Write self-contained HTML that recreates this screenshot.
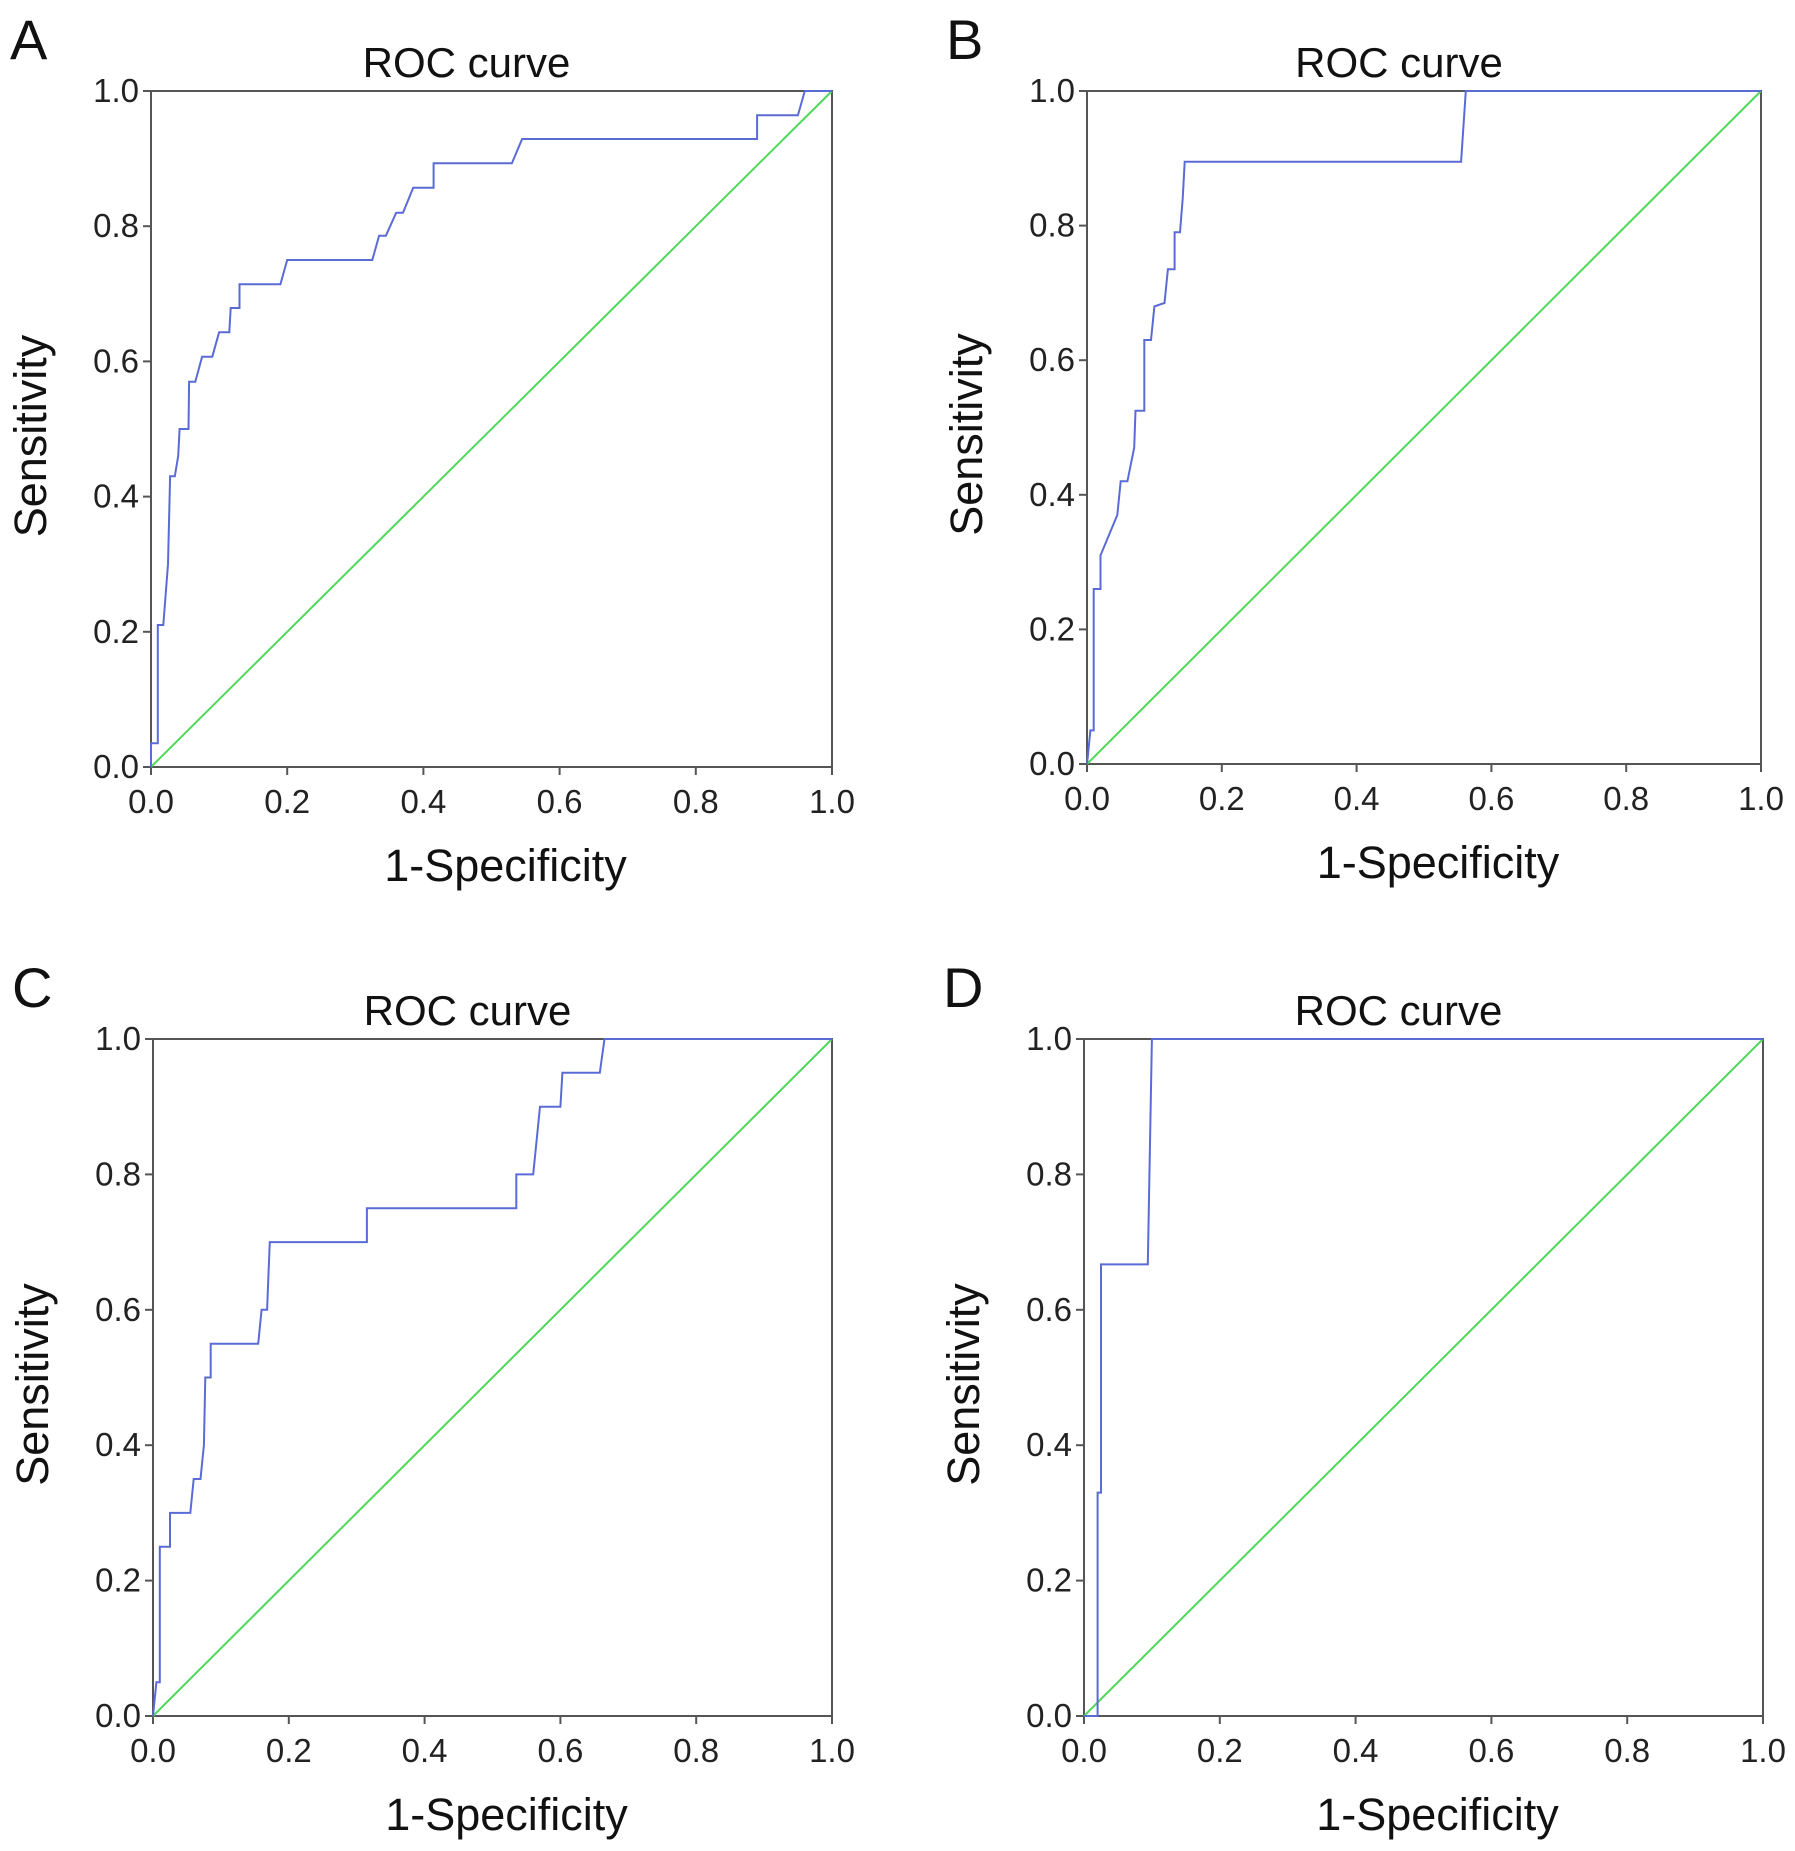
<!DOCTYPE html>
<html><head><meta charset="utf-8"><style>
html,body{margin:0;padding:0;background:#fff;}
svg{display:block;font-family:"Liberation Sans",Arial,sans-serif;}
</style></head><body>
<svg id="fig" width="1795" height="1851" viewBox="0 0 1795 1851"></svg>
<script>
const ticks = [0, 0.2, 0.4, 0.6, 0.8, 1.0];
const tickLabels = ["0.0","0.2","0.4","0.6","0.8","1.0"];
const panelLetters = ["A","B","C","D"];
const fprA = [0,0,0.01,0.01,0.018,0.025,0.028,0.035,0.04,0.042,0.055,0.056,0.065,0.075,0.09,0.1,0.115,0.117,0.13,0.13,0.19,0.2,0.325,0.335,0.345,0.36,0.37,0.385,0.415,0.415,0.53,0.545,0.89,0.89,0.95,0.96,1];
const tprA = [0,0.035,0.035,0.21,0.21,0.3,0.43,0.43,0.46,0.5,0.5,0.57,0.57,0.607,0.607,0.643,0.643,0.679,0.679,0.714,0.714,0.75,0.75,0.786,0.786,0.82,0.82,0.857,0.857,0.893,0.893,0.929,0.929,0.964,0.964,1,1];
const fprB = [0,0.005,0.01,0.01,0.02,0.02,0.045,0.05,0.06,0.07,0.072,0.085,0.085,0.095,0.1,0.115,0.12,0.13,0.13,0.138,0.142,0.145,0.555,0.562,1];
const tprB = [0,0.05,0.05,0.26,0.26,0.31,0.37,0.42,0.42,0.47,0.525,0.525,0.63,0.63,0.68,0.685,0.735,0.735,0.79,0.79,0.84,0.895,0.895,1,1];
const fprC = [0,0.005,0.01,0.01,0.025,0.025,0.055,0.06,0.07,0.075,0.077,0.085,0.085,0.155,0.16,0.168,0.17,0.172,0.315,0.315,0.535,0.535,0.56,0.57,0.6,0.603,0.658,0.665,1];
const tprC = [0,0.05,0.05,0.25,0.25,0.3,0.3,0.35,0.35,0.4,0.5,0.5,0.55,0.55,0.6,0.6,0.65,0.7,0.7,0.75,0.75,0.8,0.8,0.9,0.9,0.95,0.95,1,1];
const fprD = [0,0.02,0.02,0.025,0.025,0.094,0.1,1];
const tprD = [0,0,0.33,0.33,0.667,0.667,1,1];

const NS="http://www.w3.org/2000/svg";
const svg=document.getElementById('fig');
function mk(tag,attrs,parent){const e=document.createElementNS(NS,tag);for(const k in attrs)e.setAttribute(k,attrs[k]);(parent||svg).appendChild(e);return e;}
const panels=[
 {L:151,R:832,T:91,B:767,fpr:fprA,tpr:tprA},
 {L:1087,R:1761,T:91,B:764,fpr:fprB,tpr:tprB},
 {L:153,R:832,T:1039,B:1716,fpr:fprC,tpr:tprC},
 {L:1084,R:1763,T:1039,B:1716,fpr:fprD,tpr:tprD}
];
panels.forEach((p,i)=>{
 const g=mk('g',{});
 
 
 const xs=v=>p.L+v*(p.R-p.L), ys=v=>p.B-v*(p.B-p.T);
 const letter=mk('text',{x:p.L-141,y:p.T-32,'font-size':56,fill:'#111'},g);letter.textContent=panelLetters[i];
 
 
 const title=mk('text',{x:(p.L+p.R)/2-25,y:p.T-14,'font-size':42,'text-anchor':'middle',fill:'#111'},g);title.textContent='ROC curve';
 
 
 const frame=mk('rect',{x:p.L,y:p.T,width:p.R-p.L,height:p.B-p.T,fill:'none',stroke:'#555','stroke-width':2},g);
 
 
 ticks.forEach((t,j)=>{
  mk('line',{x1:xs(t),x2:xs(t),y1:p.B,y2:p.B+8,stroke:'#555','stroke-width':2},g);
  mk('line',{x1:p.L-8,x2:p.L,y1:ys(t),y2:ys(t),stroke:'#555','stroke-width':2},g);
  const xt=mk('text',{x:xs(t),y:p.B+46,'font-size':33,'text-anchor':'middle',fill:'#222'},g);xt.textContent=tickLabels[j];
  
  
  const yt=mk('text',{x:p.L-12,y:ys(t)+11,'font-size':33,'text-anchor':'end',fill:'#222'},g);yt.textContent=tickLabels[j];
  
  
 });
 const xl=mk('text',{x:(p.L+p.R)/2+14,y:p.B+114,'font-size':45,'text-anchor':'middle',fill:'#111'},g);xl.textContent='1-Specificity';
 
 
 const yl=mk('text',{x:0,y:0,'font-size':45,'text-anchor':'middle',fill:'#111',transform:`translate(${p.L-105},${(p.T+p.B)/2+7}) rotate(-90)`},g);yl.textContent='Sensitivity';
 
 
 const ref=mk('line',{x1:xs(0),y1:ys(0),x2:xs(1),y2:ys(1),stroke:'#4fd85a','stroke-width':2},g);
 
 
 const d=p.fpr.map((f,k)=>(k?'L':'M')+xs(f).toFixed(1)+','+ys(p.tpr[k]).toFixed(1)).join(' ');
 const roc=mk('path',{d:d,fill:'none',stroke:'#5a6bd6','stroke-width':2},g);
 
 
});
</script>
</body></html>
